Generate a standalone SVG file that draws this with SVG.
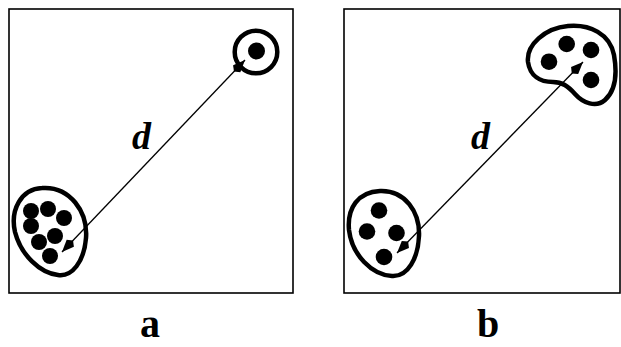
<svg xmlns="http://www.w3.org/2000/svg" width="621" height="347" viewBox="0 0 621 347">
<style>
.frame{fill:none;stroke:#000;stroke-width:1.6}
.blob{fill:#fff;stroke:#000;stroke-width:4.5;stroke-linejoin:round}
.pt{fill:#000}
.conn{stroke:#000;stroke-width:1.3;fill:none}
.lbl{font-family:"Liberation Serif","Times New Roman",serif;font-weight:bold;fill:#000}
</style>
<defs>
<marker id="ah" viewBox="-17 -6 18 12" refX="0" refY="0" markerWidth="18" markerHeight="12" markerUnits="userSpaceOnUse" orient="auto-start-reverse">
<path d="M0,0 L-12,-5 L-16,0 L-12,5 Z" fill="#000"/>
</marker>
</defs>
<rect class="frame" x="9" y="9" width="284" height="284"/>
<rect class="frame" x="344" y="9" width="276" height="284"/>
<g id="a-cluster-big">
<path class="blob" d="M42,188 C70,186 88,212 86,238 C84,262 72,277 58,275 C40,273 21,255 15,232 C10,210 21,189 42,188 Z"/>
<circle class="pt" cx="31" cy="211" r="8"/>
<circle class="pt" cx="48" cy="209" r="8"/>
<circle class="pt" cx="64" cy="218" r="8"/>
<circle class="pt" cx="31" cy="226" r="8"/>
<circle class="pt" cx="55" cy="236" r="8"/>
<circle class="pt" cx="39" cy="242" r="8"/>
<circle class="pt" cx="50" cy="256" r="8"/>
</g>
<g id="a-cluster-small">
<circle class="blob" cx="256" cy="52" r="21.3"/>
<circle class="pt" cx="256.5" cy="51" r="8.5"/>
</g>
<g id="b-cluster-low">
<path class="blob" d="M380,191 C405,190 420,212 419,236 C418,258 408,277 392,276 C372,275 352,255 349,230 C347,208 358,192 380,191 Z"/>
<circle class="pt" cx="379" cy="210.5" r="8.3"/>
<circle class="pt" cx="367" cy="231.5" r="8.3"/>
<circle class="pt" cx="396.5" cy="233" r="8.3"/>
<circle class="pt" cx="384" cy="257" r="8.3"/>
</g>
<g id="b-cluster-high">
<path class="blob" d="M528,62 C526,45 545,28 568,26 C590,24 610,34 614,55 C617,72 616,90 605,100 C596,108 583,103 575,94 C568,86 562,82 553,82 C540,82 530,76 528,62 Z"/>
<circle class="pt" cx="566.7" cy="44" r="8.3"/>
<circle class="pt" cx="591" cy="50" r="8.3"/>
<circle class="pt" cx="549" cy="61.7" r="8.3"/>
<circle class="pt" cx="591" cy="80" r="8.3"/>
</g>
<g id="connectors">
<line class="conn" x1="62" y1="252" x2="245" y2="60" marker-start="url(#ah)" marker-end="url(#ah)"/>
<line class="conn" x1="397" y1="253" x2="583" y2="62" marker-start="url(#ah)" marker-end="url(#ah)"/>
</g>
<text class="lbl" x="132" y="149" font-size="38" font-style="italic">d</text>
<text class="lbl" x="471" y="149" font-size="38" font-style="italic">d</text>
<text class="lbl" x="150" y="337" font-size="40" text-anchor="middle">a</text>
<text class="lbl" x="488" y="337" font-size="40" text-anchor="middle">b</text>
</svg>
